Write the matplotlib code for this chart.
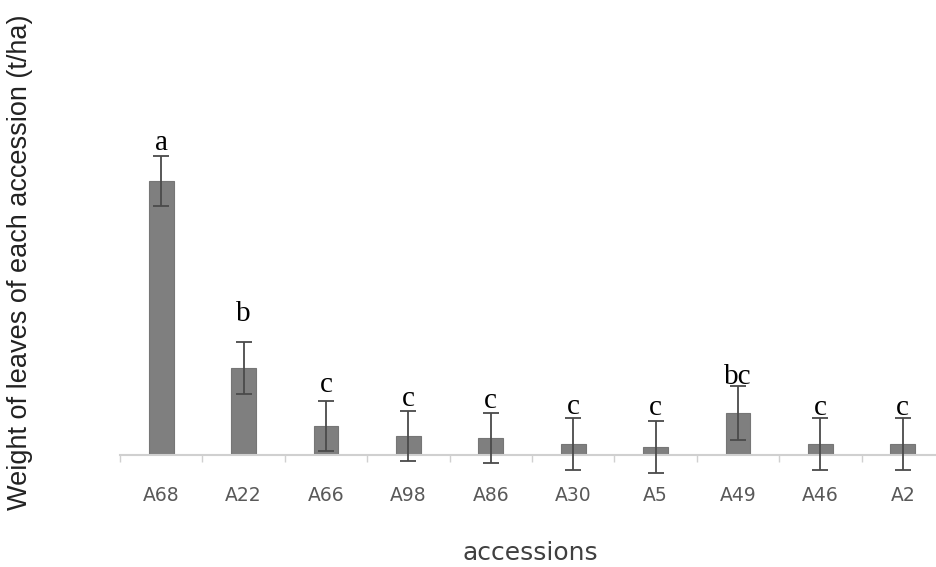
import numpy as np
import matplotlib.pyplot as plt
from matplotlib.ticker import FixedLocator

# mean leaf weight (t/ha) and standard error per accession
accessions = ['A68', 'A22', 'A66', 'A98', 'A86', 'A30', 'A5', 'A49', 'A46', 'A2']
weights = [27.4, 8.7, 2.9, 1.9, 1.7, 1.1, 0.8, 4.2, 1.1, 1.1]
errors = [2.5, 2.6, 2.5, 2.5, 2.5, 2.6, 2.6, 2.7, 2.6, 2.6]
groups = ['a', 'b', 'c', 'c', 'c', 'c', 'c', 'bc', 'c', 'c']

fig = plt.figure(figsize=(9.37, 5.67), dpi=100)
ax = fig.add_axes([120 / 937, 112 / 567, 824 / 937, 350 / 567])

x = np.arange(len(accessions))
ax.bar(x, weights, width=0.3, color='#7f7f7f', edgecolor='#767676', linewidth=0.8, zorder=2)
eb = ax.errorbar(x, weights, yerr=errors, fmt='none', ecolor='#4a4a4a',
                 elinewidth=1.3, capsize=6, capthick=1.3, zorder=3)
for art in eb.lines[1] + eb.lines[2]:
    art.set_clip_on(False)

# significance letters (gap above error bar, in pixels)
gaps = [6, 21, 9, 5, 5, 4, 6, 2, 3, 3]
for xi, w, e, g, gp in zip(x, weights, errors, groups, gaps):
    ax.annotate(g, (xi, w + e), xytext=(0, gp * 0.72), textcoords='offset points',
                ha='center', va='baseline', fontsize=21, family='Liberation Serif',
                color='black')

ax.set_xlim(-0.5, 9.5)
ax.set_ylim(0, 35)

for s in ['top', 'right', 'left']:
    ax.spines[s].set_visible(False)
ax.spines['bottom'].set_color('#d0d0d0')
ax.spines['bottom'].set_linewidth(1.5)
ax.set_yticks([])

ax.set_xticks(x)
ax.set_xticklabels(accessions, fontsize=13.5, color='#595959')
ax.tick_params(axis='x', which='major', length=0, pad=22)
ax.xaxis.set_minor_locator(FixedLocator(np.arange(-0.5, 10, 1)))
ax.tick_params(axis='x', which='minor', length=5, width=1, color='#d0d0d0')

fig.text(20 / 937, 1 - 262 / 567, 'Weight of leaves of each accession (t/ha)',
         rotation=90, ha='center', va='center', fontsize=19.5,
         family='Liberation Sans', color='#222222')
fig.text(530 / 937, 1 - 553 / 567, 'accessions', ha='center', va='center',
         fontsize=18, color='#404040')

fig.savefig('out.png', dpi=100)
